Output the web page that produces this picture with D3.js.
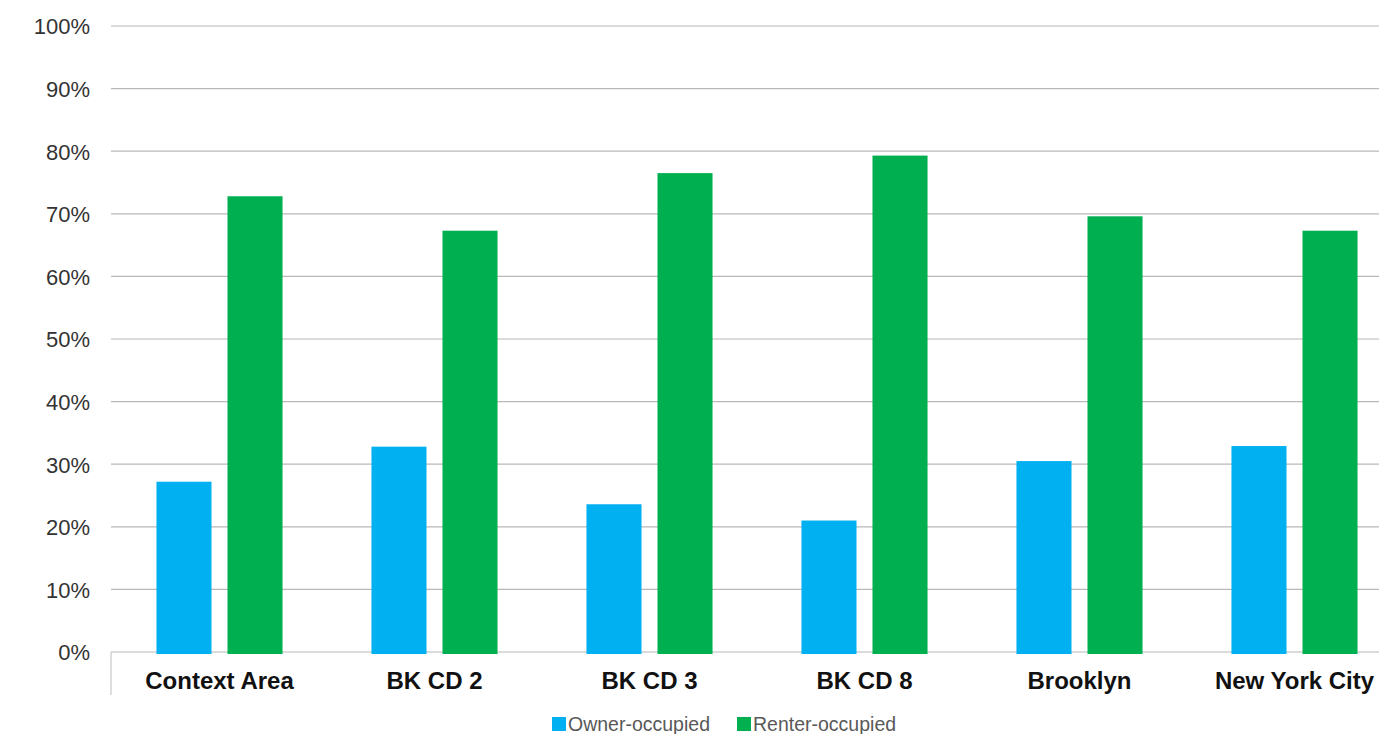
<!DOCTYPE html>
<html>
<head>
<meta charset="utf-8">
<script src="https://cdn.jsdelivr.net/npm/d3@7"></script>
<style>
  html, body { margin: 0; padding: 0; background: #fff; }
  svg { display: block; font-family: "Liberation Sans", Arial, sans-serif; }
</style>
</head>
<body>
<svg id="chart" width="1379" height="734"></svg>
<script>
const categories = ["Context Area", "BK CD 2", "BK CD 3", "BK CD 8", "Brooklyn", "New York City"];
const seriesNames = ["Owner-occupied", "Renter-occupied"];
const ownerValues = [27.2, 32.8, 23.6, 21.0, 30.5, 32.9];
const renterValues = [72.8, 67.3, 76.5, 79.3, 69.6, 67.3];
const tickValues = [0, 10, 20, 30, 40, 50, 60, 70, 80, 90, 100];
const seriesColors = ["#00B0F0", "#00B050"];

(function () {
const svg = d3.select("#chart");
const W = 1379;
const plotLeft = 111, plotTop = 26, plotBottom = 652;

const y = d3.scaleLinear().domain([0, 100]).range([plotBottom, plotTop]);
const x0 = d3.scaleBand().domain(categories).range([112, 1402]).paddingInner(0).paddingOuter(0);
const x1 = d3.scaleBand().domain(seriesNames).range([0, x0.bandwidth()]).paddingInner(0.225).paddingOuter(0.626);

// gridlines
svg.append("g")
  .selectAll("line")
  .data(tickValues)
  .join("line")
  .attr("x1", plotLeft).attr("x2", W)
  .attr("y1", d => y(d)).attr("y2", d => y(d))
  .attr("stroke", "#b8b8b8").attr("stroke-width", 1.2);

// left tick line below baseline
svg.append("line")
  .attr("x1", plotLeft).attr("x2", plotLeft)
  .attr("y1", plotBottom).attr("y2", 695)
  .attr("stroke", "#c8c8c8").attr("stroke-width", 1.2);

// y axis labels
const yAxis = d3.axisLeft(y).tickValues(tickValues).tickFormat(d => d + "%").tickSize(0).tickPadding(0);
const ya = svg.append("g").attr("transform", "translate(90,0)").call(yAxis);
ya.select(".domain").remove();
ya.selectAll("text")
  .attr("font-size", 22)
  .attr("fill", "#333")
  .attr("font-family", "Liberation Sans, Arial, sans-serif")
  .attr("dy", "0.36em");

// bars
const rows = categories.map((c, i) => ({ cat: c, vals: [ownerValues[i], renterValues[i]] }));
const groups = svg.append("g").selectAll("g")
  .data(rows).join("g")
  .attr("transform", d => `translate(${x0(d.cat)},0)`);
groups.selectAll("rect")
  .data(d => d.vals.map((v, j) => ({ name: seriesNames[j], v, j })))
  .join("rect")
  .attr("x", d => x1(d.name))
  .attr("width", x1.bandwidth())
  .attr("y", d => y(d.v))
  .attr("height", d => y(0) - y(d.v) + 2)
  .attr("fill", d => seriesColors[d.j]);

// category axis labels
const xAxis = d3.axisBottom(x0).tickSize(0).tickPadding(0);
const xa = svg.append("g").attr("transform", `translate(0,${plotBottom})`).call(xAxis);
xa.select(".domain").remove();
xa.selectAll("text")
  .attr("font-size", 24)
  .attr("font-weight", "bold")
  .attr("fill", "#111")
  .attr("font-family", "Liberation Sans, Arial, sans-serif")
  .attr("y", 37).attr("dy", 0);

// legend
const legend = svg.append("g");
const legendX = [552, 737];
seriesNames.forEach((name, i) => {
  legend.append("rect")
    .attr("x", legendX[i]).attr("y", 717)
    .attr("width", 14).attr("height", 14)
    .attr("fill", seriesColors[i]);
  legend.append("text")
    .attr("x", legendX[i] + 16).attr("y", 731)
    .attr("font-size", 19.5)
    .attr("fill", "#595959")
    .text(name);
});
})();
</script>
</body>
</html>
